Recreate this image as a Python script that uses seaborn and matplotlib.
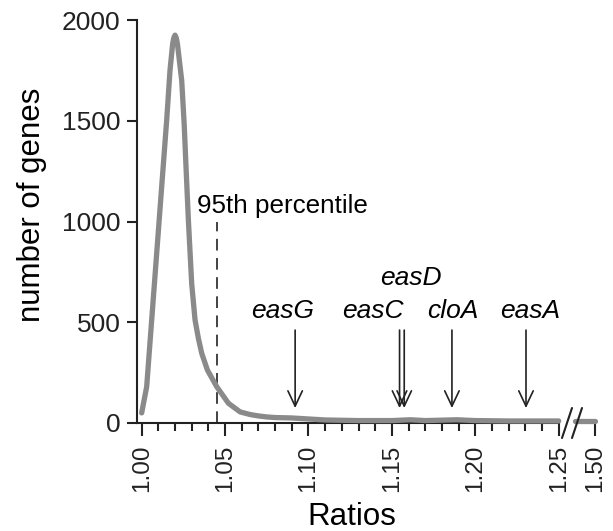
import numpy as np
import pandas as pd
import matplotlib
matplotlib.use("Agg")
import matplotlib.pyplot as plt
import seaborn as sns

# ---- data ----
ratios = [1.000, 1.003, 1.006, 1.009, 1.012, 1.015, 1.017, 1.0186, 1.0193,
          1.0200, 1.0207, 1.0214, 1.0240, 1.0255, 1.0268, 1.0280, 1.0300,
          1.0320, 1.0340, 1.0360, 1.0394, 1.0450, 1.0520, 1.0590, 1.0650,
          1.0700, 1.0750, 1.0800, 1.0900, 1.1000, 1.1100, 1.1300, 1.1500,
          1.1610, 1.1700, 1.1890, 1.2000, 1.2200, 1.2500]
counts = [50, 180, 511, 842, 1173, 1504, 1752, 1884, 1912,
          1925, 1912, 1884, 1700, 1480, 1230, 1007, 690,
          511, 420, 346, 263, 180, 98, 55, 42,
          35, 30, 27, 25, 20, 15, 12, 12,
          16, 12, 16, 12, 10, 10]
tail_ratios = [1.364, 1.500]
tail_counts = [10, 10]

percentile_95 = 1.045
percentile_height = 1000

genes = ["easG", "easC", "easD", "cloA", "easA"]
gene_ratios = [1.092, 1.1546, 1.1574, 1.186, 1.2304]

major_ticks = [1.00, 1.05, 1.10, 1.15, 1.20, 1.25, 1.50]
major_labels = ["1.00", "1.05", "1.10", "1.15", "1.20", "1.25", "1.50"]
minor_ticks = [1.00 + 0.01 * i for i in range(26)]
y_ticks = [0, 500, 1000, 1500, 2000]

# ---- style ----
sns.set_style("ticks")
plt.rcParams["font.family"] = ["Liberation Sans", "DejaVu Sans"]
INK = "#222222"
GRAY = "#8a8a8a"

BREAK = 1.25
COMP = 0.0876


def fwd(x):
    x = np.asarray(x, dtype=float)
    return np.where(x <= BREAK, x, BREAK + (x - BREAK) * COMP)


def inv(x):
    x = np.asarray(x, dtype=float)
    return np.where(x <= BREAK, x, BREAK + (x - BREAK) / COMP)


fig = plt.figure(figsize=(6.13, 5.31), dpi=100)
ax = fig.add_axes([0.2235, 0.2034, 0.974 - 0.2235, 0.9623 - 0.2034])
ax.set_xscale("function", functions=(fwd, inv))

df_main = pd.DataFrame({"ratio": ratios, "count": counts})
df_tail = pd.DataFrame({"ratio": tail_ratios, "count": tail_counts})
for d in (df_main, df_tail):
    sns.lineplot(data=d, x="ratio", y="count", ax=ax, color=GRAY, lw=3.8,
                 solid_capstyle="round", solid_joinstyle="round", zorder=3,
                 clip_on=False)

ax.set_xlim(0.9972, 1.5126)
ax.set_ylim(0, 2000)

FS = 19

# 95th percentile
ax.plot([percentile_95, percentile_95], [0, percentile_height], color=INK,
        lw=1.2, dashes=(7, 4.5), zorder=2)
ax.text(1.0332, 1042, "95th percentile", fontsize=FS * 0.985, color="black",
        ha="left", va="baseline")

# gene arrows
label_offsets = {"easG": (-9, 0), "easC": (-19, 0), "easD": (5, 24),
                 "cloA": (1, 0), "easA": (3, 0)}
for g, r in zip(genes, gene_ratios):
    ax.annotate("", xy=(r, 74), xytext=(r, 461),
                arrowprops=dict(arrowstyle="->,head_length=0.55,head_width=0.26",
                                mutation_scale=20, lw=1.2, color=INK,
                                shrinkA=0, shrinkB=0))
    dx, dy = label_offsets[g]
    ax.annotate(g, xy=(r, 521), xytext=(dx, dy), textcoords="offset points",
                ha="center", va="baseline", fontsize=FS, style="italic",
                color="black")

# axes
ax.set_xticks(major_ticks)
ax.set_xticklabels(major_labels, rotation=90)
ax.set_xticks(minor_ticks, minor=True)
ax.set_yticks(y_ticks)
ax.tick_params(axis="x", which="major", length=9.5, width=1.5, pad=6,
               labelsize=17.5, colors=INK)
ax.tick_params(axis="x", which="minor", length=6, width=1.5, colors=INK)
ax.tick_params(axis="y", which="major", length=7, width=1.5, pad=5,
               labelsize=FS, colors=INK)

ax.spines["right"].set_visible(False)
ax.spines["top"].set_visible(False)
for s in ("left", "bottom"):
    ax.spines[s].set_linewidth(1.5)
    ax.spines[s].set_color(INK)
ax.spines["bottom"].set_bounds(0.9972, BREAK)

ax.set_xlabel("Ratios", fontsize=22.5, color="black")
ax.set_ylabel("number of genes", fontsize=22.5, color="black")
ax.xaxis.set_label_coords(0.467, -0.2325)
ax.xaxis.label.set_va("center")
ax.yaxis.set_label_coords(-0.228, 0.541)
ax.yaxis.label.set_va("center")

# axis break marks
for x0 in (562, 572):
    fig.add_artist(plt.Line2D([x0 / 613, (x0 + 10) / 613],
                              [1 - 438 / 531, 1 - 408 / 531],
                              color=INK, lw=1.5, zorder=5))

fig.savefig("out.png", dpi=100, facecolor="white")
